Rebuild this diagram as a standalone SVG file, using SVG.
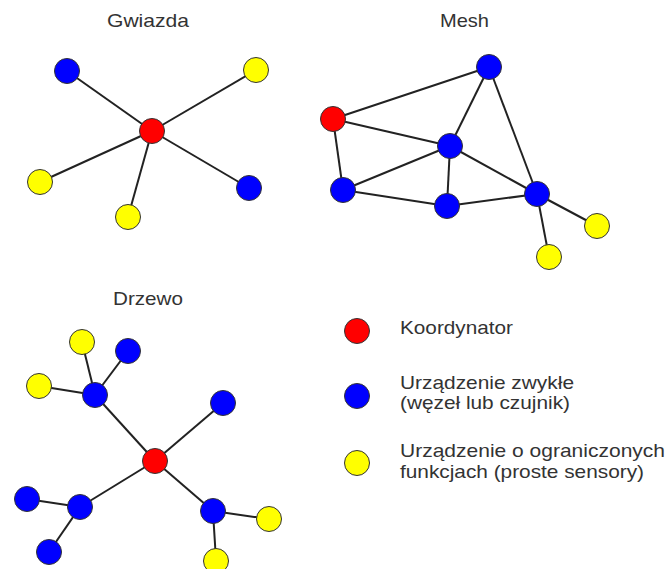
<svg xmlns="http://www.w3.org/2000/svg" width="667" height="569" viewBox="0 0 667 569">
  <style>
    .bg { fill: #ffffff; }
    .edge { stroke: #222222; stroke-width: 2; fill: none; }
    .node { stroke: #333333; stroke-width: 1; }
    .coord { fill: #ff0000; }
    .dev { fill: #0000ff; }
    .rfd { fill: #ffff00; }
    .title { font-family: "Liberation Sans", Arial, sans-serif; font-size: 18.5px; fill: #333333; }
    .legend { font-family: "Liberation Sans", Arial, sans-serif; font-size: 18.5px; fill: #333333; }
  </style>
  <rect class="bg" x="0" y="0" width="667" height="569"/>

  <!-- Titles -->
  <text class="title" x="107" y="27" textLength="82" lengthAdjust="spacingAndGlyphs">Gwiazda</text>
  <text class="title" x="440" y="27" textLength="49" lengthAdjust="spacingAndGlyphs">Mesh</text>
  <text class="title" x="113" y="305" textLength="70" lengthAdjust="spacingAndGlyphs">Drzewo</text>

  <!-- Connectors -->
  <g id="connectors">
    <!-- star -->
    <line class="edge" x1="152" y1="131" x2="67" y2="71"/>
    <line class="edge" x1="152" y1="131" x2="256" y2="70"/>
    <line class="edge" x1="152" y1="131" x2="40" y2="182"/>
    <line class="edge" x1="152" y1="131" x2="128" y2="217"/>
    <line class="edge" x1="152" y1="131" x2="249" y2="188"/>
    <!-- mesh -->
    <line class="edge" x1="333" y1="119" x2="489" y2="67"/>
    <line class="edge" x1="333" y1="119" x2="450" y2="146"/>
    <line class="edge" x1="333" y1="119" x2="343" y2="190"/>
    <line class="edge" x1="489" y1="67" x2="450" y2="146"/>
    <line class="edge" x1="489" y1="67" x2="537" y2="194"/>
    <line class="edge" x1="450" y1="146" x2="343" y2="190"/>
    <line class="edge" x1="450" y1="146" x2="447" y2="206"/>
    <line class="edge" x1="450" y1="146" x2="537" y2="194"/>
    <line class="edge" x1="343" y1="190" x2="447" y2="206"/>
    <line class="edge" x1="447" y1="206" x2="537" y2="194"/>
    <line class="edge" x1="537" y1="194" x2="597" y2="226"/>
    <line class="edge" x1="537" y1="194" x2="549" y2="257"/>
    <!-- tree -->
    <line class="edge" x1="155" y1="461" x2="95" y2="395"/>
    <line class="edge" x1="155" y1="461" x2="223" y2="403"/>
    <line class="edge" x1="155" y1="461" x2="80" y2="507"/>
    <line class="edge" x1="155" y1="461" x2="213" y2="511"/>
    <line class="edge" x1="95" y1="395" x2="82" y2="342"/>
    <line class="edge" x1="95" y1="395" x2="128" y2="351"/>
    <line class="edge" x1="95" y1="395" x2="39" y2="386"/>
    <line class="edge" x1="80" y1="507" x2="27" y2="499"/>
    <line class="edge" x1="80" y1="507" x2="49" y2="552"/>
    <line class="edge" x1="213" y1="511" x2="269" y2="519"/>
    <line class="edge" x1="213" y1="511" x2="216" y2="561"/>
  </g>

  <!-- Star topology nodes -->
  <g id="star-coordinator"><circle class="node coord" cx="152" cy="131" r="12.5"/></g>
  <g id="star-dev-1"><circle class="node dev" cx="67" cy="71" r="12.5"/></g>
  <g id="star-dev-2"><circle class="node dev" cx="249" cy="188" r="12.5"/></g>
  <g id="star-rfd-1"><circle class="node rfd" cx="256" cy="70" r="12.5"/></g>
  <g id="star-rfd-2"><circle class="node rfd" cx="40" cy="182" r="12.5"/></g>
  <g id="star-rfd-3"><circle class="node rfd" cx="128" cy="217" r="12.5"/></g>

  <!-- Mesh topology nodes -->
  <g id="mesh-coordinator"><circle class="node coord" cx="333" cy="119" r="12.5"/></g>
  <g id="mesh-dev-1"><circle class="node dev" cx="489" cy="67" r="12.5"/></g>
  <g id="mesh-dev-2"><circle class="node dev" cx="450" cy="146" r="12.5"/></g>
  <g id="mesh-dev-3"><circle class="node dev" cx="343" cy="190" r="12.5"/></g>
  <g id="mesh-dev-4"><circle class="node dev" cx="447" cy="206" r="12.5"/></g>
  <g id="mesh-dev-5"><circle class="node dev" cx="537" cy="194" r="12.5"/></g>
  <g id="mesh-rfd-1"><circle class="node rfd" cx="597" cy="226" r="12.5"/></g>
  <g id="mesh-rfd-2"><circle class="node rfd" cx="549" cy="257" r="12.5"/></g>

  <!-- Tree topology nodes -->
  <g id="tree-coordinator"><circle class="node coord" cx="155" cy="461" r="12.5"/></g>
  <g id="tree-dev-1"><circle class="node dev" cx="95" cy="395" r="12.5"/></g>
  <g id="tree-dev-2"><circle class="node dev" cx="128" cy="351" r="12.5"/></g>
  <g id="tree-dev-3"><circle class="node dev" cx="223" cy="403" r="12.5"/></g>
  <g id="tree-dev-4"><circle class="node dev" cx="80" cy="507" r="12.5"/></g>
  <g id="tree-dev-5"><circle class="node dev" cx="27" cy="499" r="12.5"/></g>
  <g id="tree-dev-6"><circle class="node dev" cx="49" cy="552" r="12.5"/></g>
  <g id="tree-dev-7"><circle class="node dev" cx="213" cy="511" r="12.5"/></g>
  <g id="tree-rfd-1"><circle class="node rfd" cx="82" cy="342" r="12.5"/></g>
  <g id="tree-rfd-2"><circle class="node rfd" cx="39" cy="386" r="12.5"/></g>
  <g id="tree-rfd-3"><circle class="node rfd" cx="269" cy="519" r="12.5"/></g>
  <g id="tree-rfd-4"><circle class="node rfd" cx="216" cy="561" r="12.5"/></g>

  <!-- Legend -->
  <g id="legend-coordinator">
    <circle class="node coord" cx="357" cy="331" r="12.5"/>
    <text class="legend" x="400" y="334" textLength="113" lengthAdjust="spacingAndGlyphs">Koordynator</text>
  </g>
  <g id="legend-device">
    <circle class="node dev" cx="357" cy="396" r="12.5"/>
    <text class="legend" x="400" y="389" textLength="174" lengthAdjust="spacingAndGlyphs">Urządzenie zwykłe</text>
    <text class="legend" x="400" y="409" textLength="170" lengthAdjust="spacingAndGlyphs">(węzeł lub czujnik)</text>
  </g>
  <g id="legend-rfd">
    <circle class="node rfd" cx="357" cy="463" r="12.5"/>
    <text class="legend" x="400" y="457" textLength="265" lengthAdjust="spacingAndGlyphs">Urządzenie o ograniczonych</text>
    <text class="legend" x="400" y="478" textLength="244" lengthAdjust="spacingAndGlyphs">funkcjach (proste sensory)</text>
  </g>
</svg>
